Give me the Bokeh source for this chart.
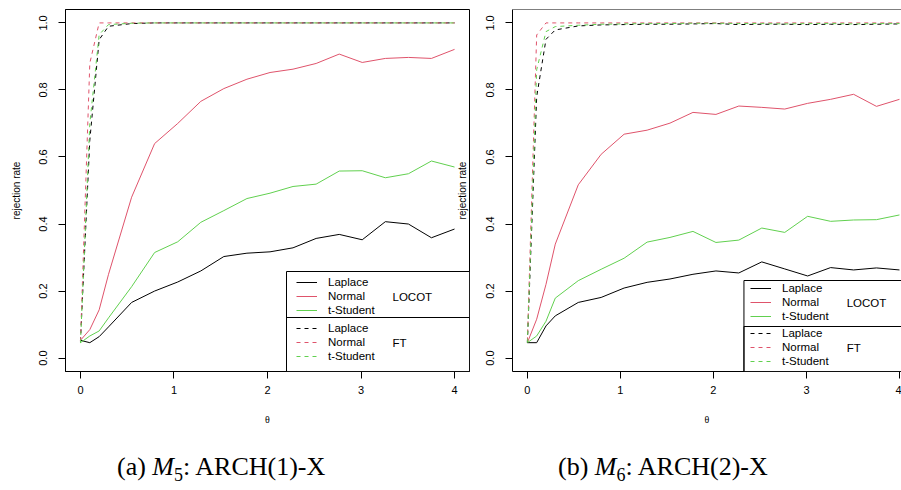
import math
from bokeh.plotting import figure
from bokeh.models import (FixedTicker, PrintfTickFormatter, Legend, LegendItem, Label,
                          BoxAnnotation, Span, Range1d, Div)
from bokeh.layouts import row, column
from bokeh.embed import file_html
from bokeh.resources import INLINE

# ---------------- data ----------------
theta = [0.0, 0.1, 0.2, 0.3, 0.547, 0.793, 1.04, 1.287, 1.533, 1.78, 2.027,
         2.273, 2.52, 2.767, 3.013, 3.26, 3.507, 3.753, 4.0]

# (a) M5: ARCH(1)-X
m5_locot_laplace = [0.053, 0.046, 0.064, 0.093, 0.166, 0.200, 0.227, 0.260, 0.303, 0.313,
                    0.317, 0.329, 0.357, 0.369, 0.353, 0.407, 0.400, 0.359, 0.385]
m5_locot_normal = [0.053, 0.085, 0.144, 0.250, 0.480, 0.640, 0.700, 0.766, 0.804, 0.832,
                   0.852, 0.862, 0.879, 0.907, 0.882, 0.894, 0.897, 0.894, 0.921]
m5_locot_tstudent = [0.046, 0.066, 0.081, 0.120, 0.213, 0.315, 0.347, 0.405, 0.440, 0.476,
                     0.492, 0.512, 0.519, 0.558, 0.559, 0.538, 0.550, 0.588, 0.570]
m5_ft_laplace = [0.050, 0.650, 0.950, 0.990, 0.998, 1.0, 1.0, 1.0, 1.0, 1.0,
                 1.0, 1.0, 1.0, 1.0, 1.0, 1.0, 1.0, 1.0, 1.0]
m5_ft_normal = [0.050, 0.880, 1.0, 1.0, 1.0, 1.0, 1.0, 1.0, 1.0, 1.0,
                1.0, 1.0, 1.0, 1.0, 1.0, 1.0, 1.0, 1.0, 1.0]
m5_ft_tstudent = [0.045, 0.700, 0.965, 0.995, 0.999, 1.0, 1.0, 1.0, 1.0, 1.0,
                  1.0, 1.0, 1.0, 1.0, 1.0, 1.0, 1.0, 1.0, 1.0]

# (b) M6: ARCH(2)-X
m6_locot_laplace = [0.046, 0.046, 0.096, 0.126, 0.166, 0.181, 0.209, 0.226, 0.236, 0.250,
                    0.260, 0.254, 0.287, 0.266, 0.245, 0.270, 0.263, 0.269, 0.263]
m6_locot_normal = [0.046, 0.116, 0.220, 0.340, 0.517, 0.608, 0.668, 0.680, 0.701, 0.733,
                   0.727, 0.752, 0.748, 0.743, 0.760, 0.772, 0.787, 0.751, 0.772]
m6_locot_tstudent = [0.046, 0.066, 0.110, 0.179, 0.231, 0.265, 0.298, 0.346, 0.360, 0.378,
                     0.345, 0.352, 0.388, 0.375, 0.423, 0.408, 0.412, 0.413, 0.427]
m6_ft_laplace = [0.046, 0.780, 0.951, 0.979, 0.991, 0.994, 0.995, 0.996, 0.996, 0.997,
                 0.998, 0.995, 0.996, 0.996, 0.995, 0.996, 0.995, 0.996, 0.997]
m6_ft_normal = [0.050, 0.964, 1.0, 1.0, 1.0, 1.0, 1.0, 1.0, 1.0, 1.0,
                1.0, 1.0, 1.0, 1.0, 1.0, 1.0, 1.0, 1.0, 1.0]
m6_ft_tstudent = [0.046, 0.860, 0.974, 0.989, 0.993, 0.996, 0.997, 0.998, 0.998, 0.999,
                  0.999, 0.998, 0.998, 0.997, 0.998, 0.998, 0.997, 0.998, 0.998]

dist_labels = ["Laplace", "Normal", "t-Student"]
method_labels = ["LOCOT", "FT"]
x_ticks = [0, 1, 2, 3, 4]
y_ticks = [0.0, 0.2, 0.4, 0.6, 0.8, 1.0]
x_label = "\u03b8"
y_label = "rejection rate"
captions = [("(a) ", "M", "5", ": ARCH(1)-X"), ("(b) ", "M", "6", ": ARCH(2)-X")]

# ---------------- style ----------------
COLORS = ["#000000", "#DF536B", "#61D04F"]
SANS = "Liberation Sans"
CAP_FONT = "Liberation Serif"
TICK_FS = "11px"
LEG_FS = "11.5px"
LAB_FS = "10px"
FIG_H = 430
Y0, Y1 = -0.04, 1.04
FRAME_TOP, FRAME_BOTTOM = 9, 371
LEFT_W, RIGHT_W = 483, 418


def make_fig(width, left, right, x_end, with_outline, show_ylabel):
    p = figure(width=width, height=FIG_H, x_range=Range1d(-0.16, x_end), y_range=Range1d(Y0, Y1),
               min_border_left=left, min_border_right=right, min_border_top=FRAME_TOP,
               min_border_bottom=FIG_H - FRAME_BOTTOM, output_backend="svg",
               toolbar_location=None, background_fill_color="white",
               border_fill_color="white")
    p.grid.visible = False
    p.outline_line_color = "black" if with_outline else None
    p.outline_line_width = 1
    for ax in (p.xaxis[0], p.yaxis[0]):
        ax.major_tick_out = 7
        ax.major_tick_in = 0
        ax.minor_tick_line_color = None
        ax.axis_line_color = "black"
        ax.major_tick_line_color = "black"
        ax.major_label_text_font = SANS
        ax.major_label_text_font_size = TICK_FS
        ax.major_label_text_color = "black"
        ax.axis_label_text_font = SANS
        ax.axis_label_text_font_style = "normal"
        ax.axis_label_text_font_size = LAB_FS
        ax.axis_label_text_color = "black"
    p.xaxis.ticker = FixedTicker(ticks=x_ticks)
    p.yaxis.ticker = FixedTicker(ticks=y_ticks)
    p.yaxis.formatter = PrintfTickFormatter(format="%.1f")
    p.yaxis.major_label_orientation = "vertical"
    p.xaxis.major_label_standoff = 7
    p.yaxis.major_label_standoff = 11
    p.xaxis.axis_label = x_label
    p.xaxis.axis_label_text_font = "Liberation Serif"
    p.xaxis.axis_label_standoff = 17
    if show_ylabel:
        p.yaxis.axis_label = y_label
        p.yaxis.axis_label_standoff = 15
    if not with_outline:
        p.add_layout(Span(location=Y1, dimension="width", line_color="black", line_width=1))
    return p


def draw_panel(p, x0px, pxu, series_locot, series_ft, box_left_px, box_top_px, sep_px,
               leg_x, leg_y1, leg_y2, tag_x_px, tag_y1_px, tag_y2_px):
    def dx(px):
        return (px - x0px) / pxu

    def dy(py):
        return Y0 + (FRAME_BOTTOM - py) / (FRAME_BOTTOM - FRAME_TOP) * (Y1 - Y0)

    solid, dashed = [], []
    for ys, c in zip(series_locot, COLORS):
        solid.append(p.line(theta, ys, line_color=c, line_width=1))
    for ys, c in zip(series_ft, COLORS):
        dashed.append(p.line(theta, ys, line_color=c, line_width=1, line_dash="4 4"))

    p.add_layout(BoxAnnotation(left=dx(box_left_px), top=dy(box_top_px), fill_color="white",
                               fill_alpha=1, line_color="black", line_width=1, line_alpha=1))
    p.add_layout(BoxAnnotation(left=dx(box_left_px), top=dy(sep_px), fill_alpha=0,
                               line_color="black", line_width=1, line_alpha=1))

    for rs, ly in ((solid, leg_y1), (dashed, leg_y2)):
        leg = Legend(items=[LegendItem(label=l, renderers=[r]) for l, r in zip(dist_labels, rs)],
                     location=(leg_x, ly), border_line_color=None, background_fill_alpha=0,
                     padding=0, margin=0, spacing=0, glyph_width=21, glyph_height=14,
                     label_height=14, label_standoff=11, label_text_font=SANS,
                     label_text_font_size=LEG_FS, label_text_color="black")
        p.add_layout(leg)

    for t, ty in zip(method_labels, (tag_y1_px, tag_y2_px)):
        p.add_layout(Label(x=dx(tag_x_px), y=dy(ty), text=t, text_font=SANS,
                           text_font_size=LEG_FS, text_baseline="middle", text_align="left",
                           text_color="black"))
    return dx, dy


def caption_div(parts, width, pad_left):
    a, m, sub, rest = parts
    html = (f'<div style="font-family:\'{CAP_FONT}\';font-size:26px;line-height:28px;'
            f'padding-top:23px;padding-left:{pad_left}px;white-space:nowrap;color:black;">'
            f'{a}<i>{m}</i><sub style="font-size:18px;line-height:0;">{sub}</sub>{rest}</div>')
    return Div(text=html, width=width, height=490 - FIG_H, margin=(0, 0, 0, 0))


# left panel: frame x 65..469
p1 = make_fig(LEFT_W, 65, LEFT_W - 469, 4.16, True, True)
dx1, dy1 = draw_panel(p1, 80.0, 93.5,
                      [m5_locot_laplace, m5_locot_normal, m5_locot_tstudent],
                      [m5_ft_laplace, m5_ft_normal, m5_ft_tstudent],
                      286, 271, 317, 231, 54, 8, 392, 296, 342)
# right panel's y label sits just left of its frame (inside the left canvas)
p1.add_layout(Label(x=dx1(462), y=0.5, text=y_label, angle=math.pi / 2, text_font=SANS,
                    text_font_size=LAB_FS, text_align="center", text_baseline="middle",
                    text_color="black"))

# right panel: frame x 511..901 (cut off at the right edge)
p2 = make_fig(RIGHT_W, 511 - LEFT_W, 0, 4.022, False, False)
dx2, dy2 = draw_panel(p2, 525.9, 93.25,
                      [m6_locot_laplace, m6_locot_normal, m6_locot_tstudent],
                      [m6_ft_laplace, m6_ft_normal, m6_ft_tstudent],
                      743, 280, 326, 238, 48, 3, 846, 302, 347)

cap1 = caption_div(captions[0], LEFT_W, 117)
cap2 = caption_div(captions[1], RIGHT_W, 558 - LEFT_W)

layout = column(row(p1, p2), row(cap1, cap2))
open("out.html", "w").write(file_html(layout, INLINE))
